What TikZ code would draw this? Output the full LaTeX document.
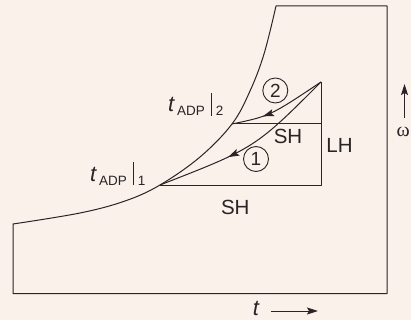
\documentclass[tikz,border=0pt]{standalone}
\usepackage{fontspec}
\setmainfont{Liberation Sans}
\newfontfamily\serifw{Liberation Serif}
\usetikzlibrary{arrows.meta,decorations.markings}
\definecolor{bgc}{HTML}{FAF1EB}
\definecolor{ink}{HTML}{2A2426}
\newcommand{\tlab}[1]{{\fontsize{22}{22}\selectfont\textit{t}}\hspace{2pt}\raisebox{-4pt}{\fontsize{13.5}{13.5}\selectfont ADP}\hspace{6pt}\rule[-4pt]{1pt}{23pt}\hspace{4pt}\raisebox{-4pt}{\fontsize{13.5}{13.5}\selectfont #1}}
\begin{document}
\begin{tikzpicture}[x=1pt,y=-1pt,
  line/.style={draw=ink,line width=1pt,line join=round},
  lbl/.style={text=ink,inner sep=0pt,font=\fontsize{20.5}{24}\selectfont},
  circ/.style={circle,draw=ink,line width=0.9pt,minimum size=25pt,inner sep=0pt,text=ink,font=\fontsize{19}{19}\selectfont},
  tip/.style={-{Stealth[length=11pt,width=7pt,inset=2pt]}},
  midarrow/.style={postaction={decorate},decoration={markings,mark=at position #1 with {\arrow{Stealth[length=11pt,width=7pt,inset=2pt]}}}}]
\fill[bgc] (0,0) rectangle (411,320);
\useasboundingbox (0,0) rectangle (411,320);
% key points
\coordinate (c0) at (13,224);
\coordinate (A) at (160,185);
\coordinate (B) at (232,124);
\coordinate (ctop) at (276,6);
\coordinate (tr) at (387,6);
\coordinate (br) at (387,293.5);
\coordinate (bl) at (13,293.5);
\coordinate (P) at (321,82);
\coordinate (Q) at (321,124);
\coordinate (R) at (321,185);
% outer shape
\draw[line] plot[smooth,tension=0.6] coordinates {(13,224) (80,213) (125,201) (160,185) (200,157) (232,124) (250,91) (264,54) (276,6)}
  -- (tr) -- (br) -- (bl) -- cycle;
% triangle box
\draw[line] (B) -- (Q);
\draw[line] (A) -- (R) -- (P);
% process lines
\draw[line,midarrow=0.62] (P) .. controls (255,148) .. (A);
\draw[line,midarrow=0.68] (P) .. controls (270,116) .. (B);
% labels
\node[lbl,anchor=base west] (l2) at (168,112) {\tlab{2}};
\node[lbl,anchor=base west] (l1) at (90,181) {\tlab{1}};
\node[circ] (n2) at (275.3,90.5) {2};
\node[circ] (n1) at (256,159) {1};
\node[lbl] (sh1) at (288,136) {SH};
\node[lbl] (lh) at (339.5,145) {LH};
\node[lbl] (sh2) at (235.3,207.5) {SH};
% axes
\node[lbl,anchor=base,font=\fontsize{22}{22}\selectfont\itshape] (tx) at (256,315.5) {t};
\coordinate (ta) at (271,311);
\coordinate (tb) at (318,311);
\draw[line,tip] (ta) -- (tb);
\coordinate (wa) at (404.5,118);
\coordinate (wb) at (404.5,84);
\draw[line,tip] (wa) -- (wb);
\node[lbl,anchor=base west,font=\fontsize{20}{20}\serifw] (w) at (396.5,137) {ω};
\end{tikzpicture}
\end{document}
